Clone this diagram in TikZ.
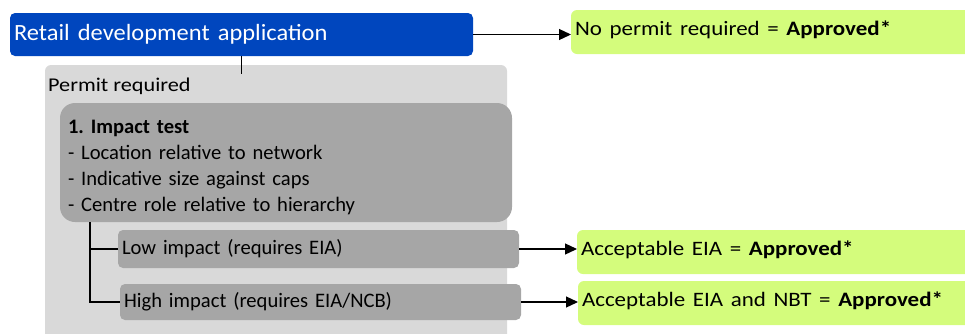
\documentclass[tikz,border=0pt]{standalone}
\usepackage{fontspec}
\usepackage{graphicx}
\setmainfont{Carlito}
\frenchspacing
\usetikzlibrary{arrows.meta,calc}
\definecolor{appblue}{RGB}{0,70,190}
\definecolor{okgreen}{RGB}{212,252,124}
\definecolor{lightgrey}{RGB}{217,217,217}
\definecolor{darkgrey}{RGB}{166,166,166}
\newcommand{\hs}[2]{\scalebox{#1}[1]{#2}}
\tikzset{
  box/.style={draw=none, outer sep=0pt, inner xsep=4pt, inner ysep=0pt, align=left, anchor=north west},
  bluebox/.style={box, fill=appblue, text=white, rounded corners=5pt, font=\fontsize{23.3}{26}\selectfont},
  greenbox/.style={box, fill=okgreen, rounded corners=6pt, font=\fontsize{20.5}{24}\selectfont, text height=16pt, text depth=10pt},
  greybox/.style={box, fill=darkgrey, rounded corners=5pt, font=\fontsize{20.6}{26}\selectfont},
  conn/.style={line width=1.2pt, draw=black},
  arr/.style={conn, -{Triangle[length=12pt,width=11pt]}},
}
\begin{document}
\begin{tikzpicture}[x=1pt,y=-1pt]
\useasboundingbox (0,0) rectangle (965,333);
\clip (0,0) rectangle (965,333);
% outer permit box
\node[box, fill=lightgrey, rounded corners=6pt, minimum width=462pt, minimum height=290pt] (permit) at (45,65) {};
\node[anchor=base west, inner sep=0pt, font=\fontsize{19.5}{22}\selectfont] (permitlbl) at (48,91) {\hs{1.14}{Permit required}};
% application
\node[bluebox, minimum width=463pt, minimum height=43pt, text width=455pt] (app) at (10,13) {\hs{1.05}{Retail development application}};
% outcomes
\node[greenbox, minimum width=420pt, minimum height=44pt, text width=412pt] (ok1) at (571,10) {\hs{1.12}{No permit required = \textbf{Approved*}}};
\node[greenbox, minimum width=420pt, minimum height=44pt, text width=412pt] (ok2) at (577,230) {\hs{1.12}{Acceptable EIA = \textbf{Approved*}}};
\node[greenbox, minimum width=420pt, minimum height=44pt, text width=412pt] (ok3) at (578,281) {\hs{1.12}{Acceptable EIA and NBT = \textbf{Approved*}}};
% impact test
\node[greybox, rounded corners=15pt, minimum width=446pt, minimum height=119pt, text width=436pt, inner xsep=8pt] (impact) at (60,103) {\rule{0pt}{24pt}\textbf{1. Impact test}\\- Location relative to network\\- Indicative size against caps\\- Centre role relative to hierarchy};
\node[greybox, minimum width=401pt, minimum height=38pt, text width=393pt] (low) at (118,230) {Low impact (requires EIA)};
\node[greybox, minimum width=401pt, minimum height=36pt, text width=393pt] (high) at (120,284) {High impact (requires EIA/NCB)};
% connectors
\draw[arr] (app.east) -- (ok1.west |- app.east);
\draw[conn] (app.south) -- ++(0,18);
\coordinate (branch) at ($(impact.south west)+(30,0)$);
\draw[conn] (branch) |- (low.west);
\draw[conn] (branch) |- (high.west);
\draw[arr] (low.east) -- (ok2.west |- low.east);
\draw[arr] (high.east) -- (ok3.west |- high.east);
\end{tikzpicture}
\end{document}
